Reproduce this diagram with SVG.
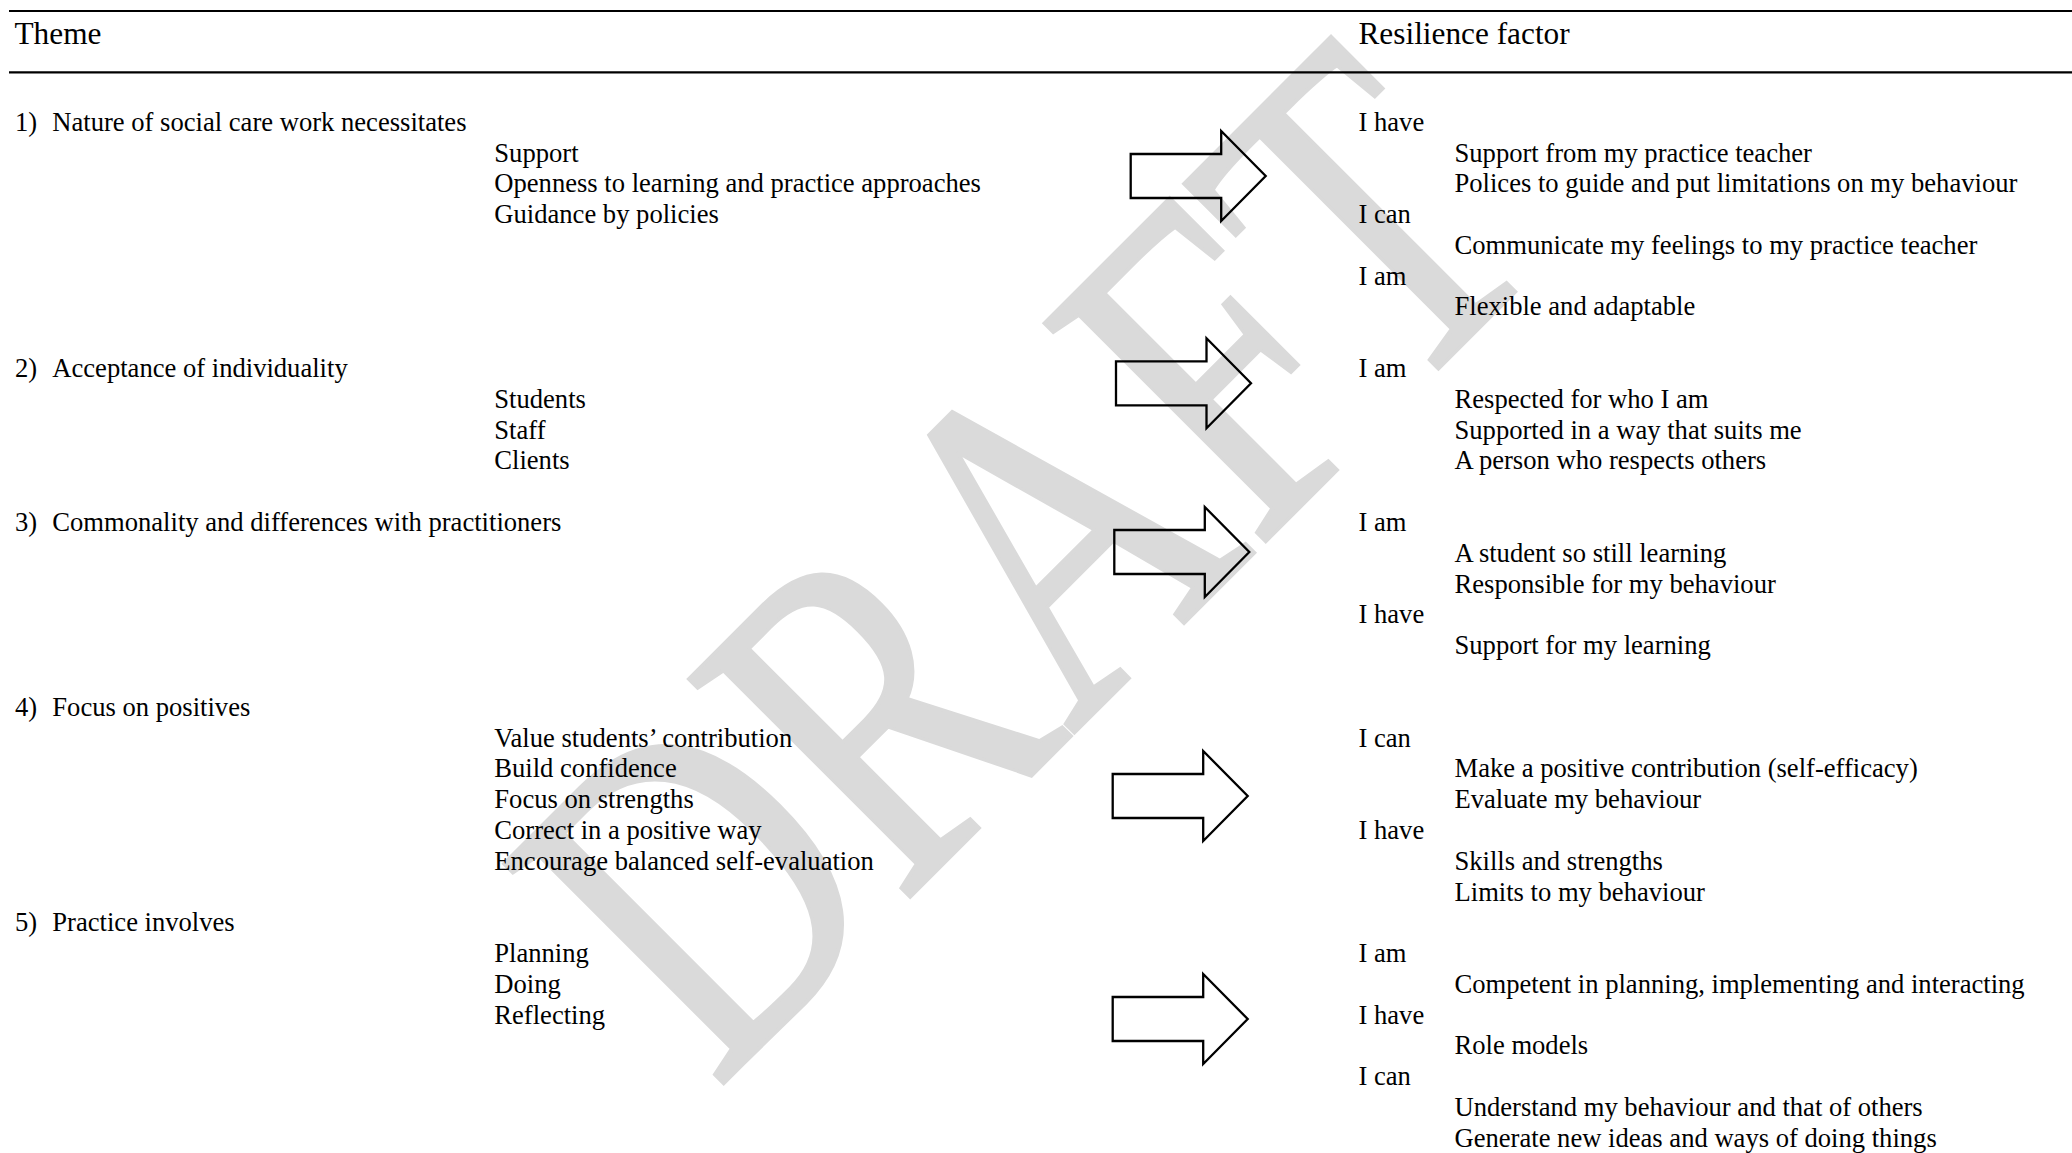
<svg xmlns="http://www.w3.org/2000/svg" width="2072" height="1153" viewBox="0 0 2072 1153">
<style>
text{font-family:"Liberation Serif","Times New Roman",serif;fill:#000}
.b{font-size:26.6px}
.h{font-size:31.3px}
.wm{font-size:362px;fill:#dadada;stroke:#dadada;stroke-width:3}
.rule{stroke:#000;stroke-width:2.2}
.arr{fill:none;stroke:#000;stroke-width:2.3;stroke-linejoin:miter}
</style>
<defs>
<path id="arrow" d="M0,-22 H90.5 V-45 L135,0 L90.5,45 V22 H0 Z"/>
</defs>
<rect width="2072" height="1153" fill="#fff"/>
<g id="watermark">
<text class="wm" transform="translate(716,1091) rotate(-45) scale(1,1.31)">DRAFT</text>
</g>
<g id="header">
<line class="rule" x1="9" y1="11" x2="2072" y2="11"/>
<line class="rule" x1="9" y1="72.3" x2="2072" y2="72.3"/>
<text class="h" x="14.5" y="43.5">Theme</text>
<text class="h" x="1358.5" y="43.5">Resilience factor</text>
</g>
<g id="theme1">
<text class="b" x="15" y="130.7">1)</text>
<text class="b" x="52.3" y="130.7">Nature of social care work necessitates</text>
<text class="b" x="494.3" y="161.5">Support</text>
<text class="b" x="494.3" y="192.3">Openness to learning and practice approaches</text>
<text class="b" x="494.3" y="223.1">Guidance by policies</text>
</g>
<g id="factor1">
<text class="b" x="1358.5" y="130.7">I have</text>
<text class="b" x="1454.5" y="161.5">Support from my practice teacher</text>
<text class="b" x="1454.5" y="192.3">Polices to guide and put limitations on my behaviour</text>
<text class="b" x="1358.5" y="223.1">I can</text>
<text class="b" x="1454.5" y="253.9">Communicate my feelings to my practice teacher</text>
<text class="b" x="1358.5" y="284.7">I am</text>
<text class="b" x="1454.5" y="315.4">Flexible and adaptable</text>
</g>
<g id="theme2">
<text class="b" x="15" y="377">2)</text>
<text class="b" x="52.3" y="377">Acceptance of individuality</text>
<text class="b" x="494.3" y="407.8">Students</text>
<text class="b" x="494.3" y="438.6">Staff</text>
<text class="b" x="494.3" y="469.4">Clients</text>
</g>
<g id="factor2">
<text class="b" x="1358.5" y="377">I am</text>
<text class="b" x="1454.5" y="407.8">Respected for who I am</text>
<text class="b" x="1454.5" y="438.6">Supported in a way that suits me</text>
<text class="b" x="1454.5" y="469.4">A person who respects others</text>
</g>
<g id="theme3">
<text class="b" x="15" y="531">3)</text>
<text class="b" x="52.3" y="531">Commonality and differences with practitioners</text>
</g>
<g id="factor3">
<text class="b" x="1358.5" y="531">I am</text>
<text class="b" x="1454.5" y="561.8">A student so still learning</text>
<text class="b" x="1454.5" y="592.6">Responsible for my behaviour</text>
<text class="b" x="1358.5" y="623.3">I have</text>
<text class="b" x="1454.5" y="654.1">Support for my learning</text>
</g>
<g id="theme4">
<text class="b" x="15" y="715.7">4)</text>
<text class="b" x="52.3" y="715.7">Focus on positives</text>
<text class="b" x="494.3" y="746.5">Value students’ contribution</text>
<text class="b" x="494.3" y="777.3">Build confidence</text>
<text class="b" x="494.3" y="808.1">Focus on strengths</text>
<text class="b" x="494.3" y="838.9">Correct in a positive way</text>
<text class="b" x="494.3" y="869.7">Encourage balanced self-evaluation</text>
</g>
<g id="factor4">
<text class="b" x="1358.5" y="746.5">I can</text>
<text class="b" x="1454.5" y="777.3">Make a positive contribution (self-efficacy)</text>
<text class="b" x="1454.5" y="808.1">Evaluate my behaviour</text>
<text class="b" x="1358.5" y="838.9">I have</text>
<text class="b" x="1454.5" y="869.7">Skills and strengths</text>
<text class="b" x="1454.5" y="900.5">Limits to my behaviour</text>
</g>
<g id="theme5">
<text class="b" x="15" y="931.2">5)</text>
<text class="b" x="52.3" y="931.2">Practice involves</text>
<text class="b" x="494.3" y="962">Planning</text>
<text class="b" x="494.3" y="992.8">Doing</text>
<text class="b" x="494.3" y="1023.6">Reflecting</text>
</g>
<g id="factor5">
<text class="b" x="1358.5" y="962">I am</text>
<text class="b" x="1454.5" y="992.8">Competent in planning, implementing and interacting</text>
<text class="b" x="1358.5" y="1023.6">I have</text>
<text class="b" x="1454.5" y="1054.4">Role models</text>
<text class="b" x="1358.5" y="1085.2">I can</text>
<text class="b" x="1454.5" y="1116">Understand my behaviour and that of others</text>
<text class="b" x="1454.5" y="1146.8">Generate new ideas and ways of doing things</text>
</g>
<g id="connectors">
<use href="#arrow" class="arr" transform="translate(1130.7,176)"/>
<use href="#arrow" class="arr" transform="translate(1116,383.3)"/>
<use href="#arrow" class="arr" transform="translate(1114.3,552)"/>
<use href="#arrow" class="arr" transform="translate(1112.7,796)"/>
<use href="#arrow" class="arr" transform="translate(1112.7,1019)"/>
</g>
</svg>
